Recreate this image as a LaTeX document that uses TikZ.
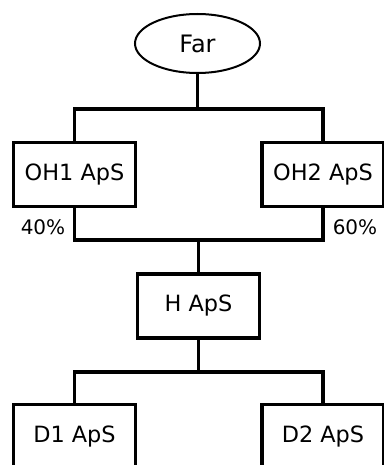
\documentclass[tikz,border=0pt]{standalone}
\usepackage{fontspec}
\setmainfont{DejaVu Sans}
\usetikzlibrary{shapes.geometric}

\tikzset{
  firma/.style={draw, line width=1.7pt, minimum width=61pt, minimum height=32pt,
    inner sep=0pt, font=\fontsize{11.2}{13}\selectfont},
  ejer/.style={draw, ellipse, line width=1pt, minimum width=62.5pt,
    minimum height=29.5pt, inner sep=0pt, font=\fontsize{12}{14}\selectfont},
  andel/.style={inner sep=0pt, font=\fontsize{10}{12}\selectfont},
  streg/.style={line width=1.6pt}
}

\begin{document}
\begin{tikzpicture}[x=0.5pt,y=-0.5pt]
  \useasboundingbox (0,0) rectangle (384,465);
  \clip (0,0) rectangle (384,465);

  \node[ejer] (far) at (197.5,43.5) {Far};
  \node[firma] (oh1) at (74.5,174.5) {OH1 ApS};
  \node[firma] (oh2) at (323,174.5) {OH2 ApS};
  \node[firma] (h) at (198.5,306) {H ApS};
  \node[firma] (d1) at (74.5,436.5) {D1 ApS};
  \node[firma] (d2) at (323,436.5) {D2 ApS};

  \node[andel] (p1) at (43,227) {40\%};
  \node[andel] (p2) at (355,227) {60\%};

  \coordinate (topbus) at (197.5,109);
  \coordinate (midbus) at (198.5,240);
  \coordinate (lowbus) at (198.5,372);

  \begin{scope}[streg]
    \draw (far) -- (topbus);
    \draw (oh1.north) |- (topbus) -| (oh2.north);
    \draw (oh1.south) |- (midbus) -| (oh2.south);
    \draw (midbus) -- (h.north);
    \draw (h.south) -- (lowbus);
    \draw (d1.north) |- (lowbus) -| (d2.north);
  \end{scope}
\end{tikzpicture}
\end{document}
